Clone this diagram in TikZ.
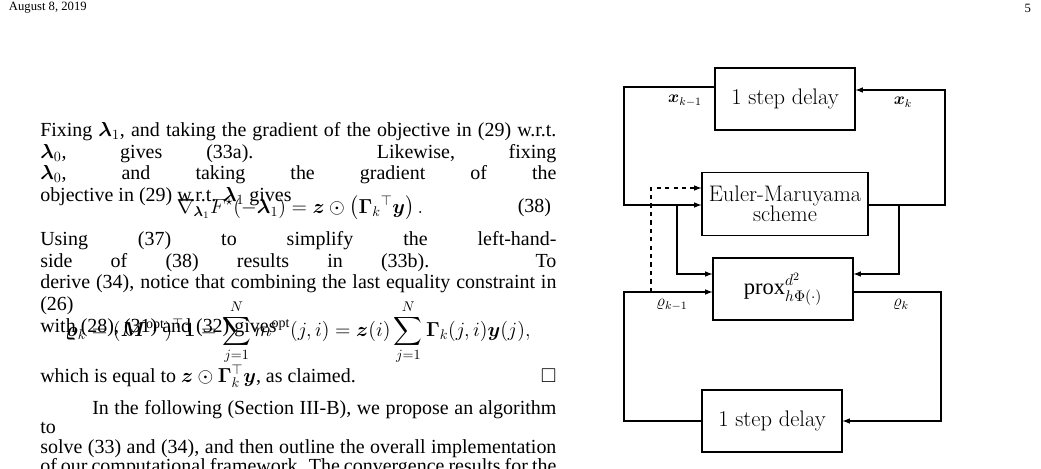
\documentclass[tikz,border=0pt]{standalone}
\usepackage{amsmath,amssymb,bm}
\usepackage{fontspec}
\setmainfont{Liberation Serif}
\newfontfamily\lmfont{Latin Modern Roman}
\usetikzlibrary{positioning}
\tikzset{
  block/.style={draw,thick,minimum width=3.5cm,minimum height=1.55cm,font=\fontsize{16}{17}\selectfont\lmfont},
  link/.style={thick,-latex},
  para/.style={anchor=north west,inner sep=0pt,text width=12.9cm,align=justify,font=\fontsize{14.2}{15.5}\selectfont}
}
\begin{document}
\begin{tikzpicture}[x=0.025cm,y=-0.025cm]
  \useasboundingbox (0,0) rectangle (1041,468);
  % page text
  \node[anchor=west,font=\fontsize{9}{10}\selectfont] (date) at (4,8) {August 8, 2019};
  \node[anchor=east,font=\fontsize{9}{10}\selectfont] (page) at (1036,8) {5};
  \node[para] (p1) at (40,122) {Fixing $\bm{\lambda}_1$, and taking the gradient of the objective in (29) w.r.t.\linebreak $\bm{\lambda}_0$, gives (33a). Likewise, fixing $\bm{\lambda}_0$, and taking the gradient of the\linebreak objective in (29) w.r.t. $\bm{\lambda}_1$ gives};
  \node[font=\fontsize{14.2}{16}\selectfont] (eq1) at (300,208) {$\nabla_{\bm{\lambda}_1} F^\star(-\bm{\lambda}_1)=\bm{z}\odot\left(\bm{\Gamma}_k{}^\top\bm{y}\right).$};
  \node[anchor=east,font=\fontsize{14.2}{16}\selectfont] (n1) at (556,208) {(38)};
  \node[para] (p2) at (40,231) {Using (37) to simplify the left-hand-side of (38) results in (33b). To\linebreak derive (34), notice that combining the last equality constraint in (26)\linebreak with (28), (31) and (32) gives};
  \node[font=\fontsize{14.2}{16}\selectfont] (eq2) at (298,332) {$\bm{\varrho}_k=(\bm{M}^{\mathrm{opt}})^\top\bm{1}=\displaystyle\sum_{j=1}^N m^{\mathrm{opt}}(j,i)=\bm{z}(i)\sum_{j=1}^N\bm{\Gamma}_k(j,i)\bm{y}(j),$};
  \node[para] (p3) at (40,364) {which is equal to $\bm{z}\odot\bm{\Gamma}_k^\top\bm{y}$, as claimed.\hfill$\square$};
  \node[para,font=\fontsize{14.2}{13.8}\selectfont] (p4) at (40,400) {\hspace*{1.3cm}In the following (Section III-B), we propose an algorithm to\linebreak solve (33) and (34), and then outline the overall implementation\linebreak of our computational framework. The convergence results for the\linebreak proposed algorithm are given in Section III-C.};
  % block diagram
  \node[block] (delayx) at (785,99) {1 step delay};
  \node[block,minimum width=4.15cm,minimum height=1.58cm,align=center] (euler) at (785,204) {Euler-Maruyama\\[-3pt]scheme};
  \node[block] (prox) at (783,289) {$\mathrm{prox}^{d^2}_{h\Phi(\cdot)}$};
  \node[block] (delayr) at (772,421) {1 step delay};
  \coordinate (xl) at (624,87);
  \coordinate (xr) at (945,90);
  \coordinate (rl) at (624,292);
  \coordinate (rr) at (941,292);
  \draw[link] (delayx.west |- xl) -- (xl) |- (euler.west |- 0,205);
  \draw[link] (euler.east |- 0,205) -| (xr) -- (delayx.east |- xr);
  \draw[link] (677,205) |- (prox.west |- 0,274);
  \draw[link] (899,205) |- (prox.east |- 0,274);
  \draw[link] (prox.east |- rr) -- (rr) |- (delayr.east);
  \draw[link] (delayr.west) -| (rl) -- (prox.west |- rl);
  \draw[thick,dashed,-latex] (651,292) |- (euler.west |- 0,188);
  \node[font=\fontsize{12}{14}\selectfont] (lxk1) at (685,101) {$\bm{x}_{k-1}$};
  \node[font=\fontsize{12}{14}\selectfont] (lxk) at (903,102) {$\bm{x}_k$};
  \node[font=\fontsize{12}{14}\selectfont] (lrk1) at (672,305) {$\varrho_{k-1}$};
  \node[font=\fontsize{12}{14}\selectfont] (lrk) at (901,305) {$\varrho_k$};
\end{tikzpicture}
\end{document}
